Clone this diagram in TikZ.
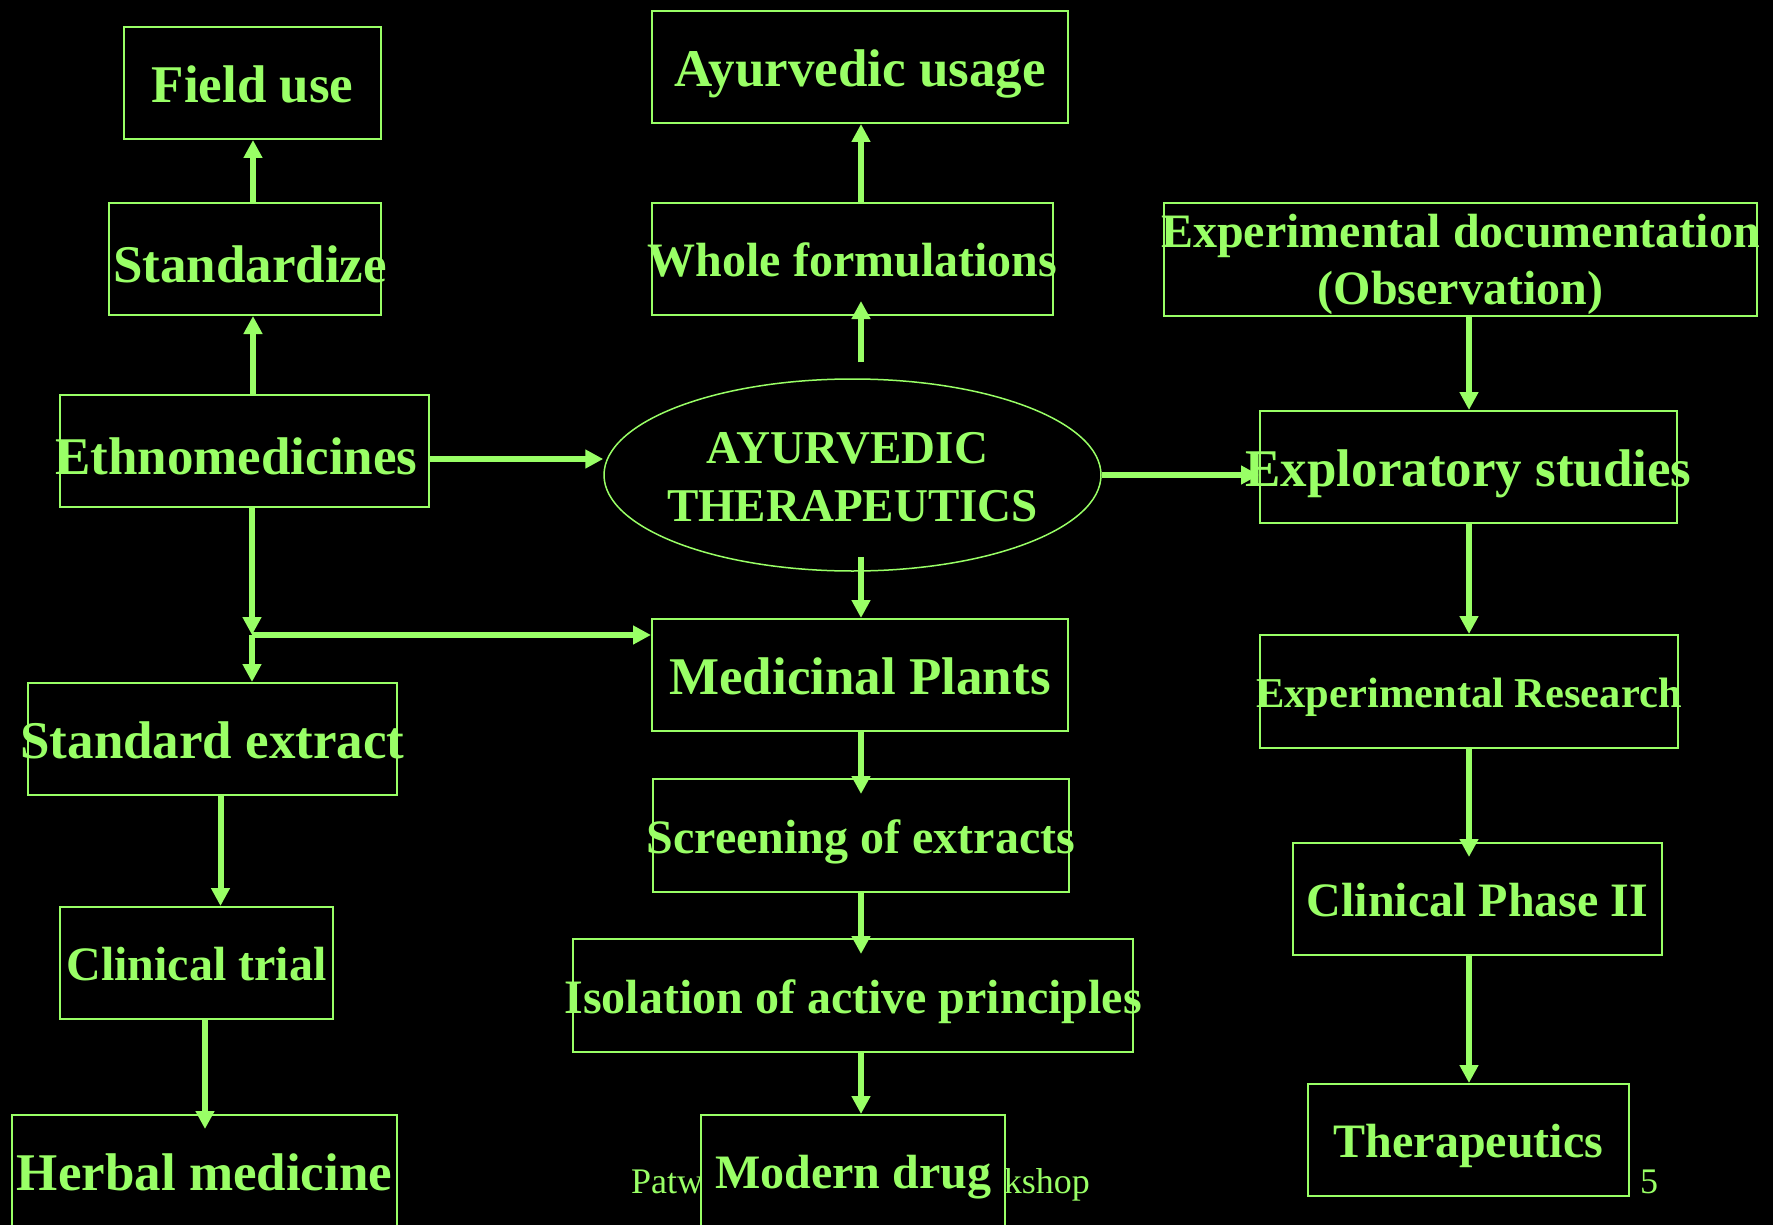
\documentclass[tikz,border=0pt]{standalone}
\usepackage{fontspec}
\setmainfont{Liberation Serif}
\usetikzlibrary{arrows.meta,shapes.geometric}
\definecolor{leaf}{HTML}{99FF66}

\begin{document}
\begin{tikzpicture}[x=1pt,y=1pt,
    box/.style 2 args={draw=leaf, line width=2pt, fill=black, inner sep=0pt,
        minimum width=#1, minimum height=#2},
    oval/.style={draw=leaf, line width=1.5pt, ellipse, inner sep=0pt,
        minimum width=497, minimum height=192},
    txt/.style={text=leaf, inner sep=0pt, yshift=-2,
        font=\bfseries\fontsize{#1}{57}\selectfont,
        text height={0.662*#1pt}, text depth=0pt},
    txt/.default=48,
    foot/.style={text=leaf, inner sep=0pt, font=\fontsize{36}{40}\selectfont},
    arr/.style={draw=leaf, line width=6pt, -{Triangle[length=18pt,width=18pt]}}]
    \useasboundingbox (0,0) rectangle (1773,-1225);
    \fill[black] (0,0) rectangle (1773,-1225);
    \node[foot, anchor=base west] (footl) at (631,-1193) {Patw};
    \node[foot, anchor=base east] (footr) at (1090,-1193) {kshop};
    \node[foot, anchor=base west] (page) at (1640,-1193) {5};
    % left column
    \node[box={257}{112}] (field) at (252.5,-83) {};
    \node[box={272}{112}] (stdz) at (245,-259) {};
    \node[box={369}{112}] (ethno) at (244.5,-451) {};
    \node[box={369}{112}] (sext) at (212.5,-739) {};
    \node[box={273}{112}] (ctrial) at (196.5,-963) {};
    \node[box={385}{112}] (herbal) at (204.5,-1171) {};
    % centre column
    \node[box={416}{112}] (ayu) at (860,-67) {};
    \node[box={401}{112}] (whole) at (852.5,-259) {};
    \node[oval] (ell) at (852.5,-475) {};
    \node[box={416}{112}] (medp) at (860,-675) {};
    \node[box={416}{113}] (screen) at (861,-835.5) {};
    \node[box={560}{113}] (isol) at (853,-995.5) {};
    \node[box={304}{112}] (modern) at (853,-1171) {};
    % right column
    \node[box={593}{113}] (expdoc) at (1460.5,-259.5) {};
    \node[box={417}{112}] (explor) at (1468.5,-467) {};
    \node[box={418}{113}] (expres) at (1469,-691.5) {};
    \node[box={369}{112}] (cph) at (1477.5,-899) {};
    \node[box={321}{112}] (thera) at (1468.5,-1140) {};
    % texts
    \node[txt=53] (fieldtx) at (field) {Field use};
    \node[txt=53, xshift=5, yshift=-4] (stdztx) at (stdz) {Standardize};
    \node[txt=53, xshift=-8, yshift=-4] (ethnotx) at (ethno) {Ethnomedicines};
    \node[txt=53] (sexttx) at (sext) {Standard extract};
    \node[txt] (ctrialtx) at (ctrial) {Clinical trial};
    \node[txt=53] (herbaltx) at (herbal) {Herbal medicine};
    \node[txt=53] (ayutx) at (ayu) {Ayurvedic usage};
    \node[txt] (wholetx) at (whole) {Whole formulations};
    \node[txt=47, xshift=-5, yshift=29] (elltxa) at (ell) {AYURVEDIC};
    \node[txt=47, yshift=-28.5] (elltxb) at (ell) {THERAPEUTICS};
    \node[txt=53] (medptx) at (medp) {Medicinal Plants};
    \node[txt] (screentx) at (screen) {Screening of extracts};
    \node[txt] (isoltx) at (isol) {Isolation of active principles};
    \node[txt] (moderntx) at (modern) {Modern drug};
    \node[txt, yshift=29.5] (expdoctxa) at (expdoc) {Experimental documentation};
    \node[txt, yshift=-27.5] (expdoctxb) at (expdoc) {(Observation)};
    \node[txt=53] (explortx) at (explor) {Exploratory studies};
    \node[txt=42.5] (exprestx) at (expres) {Experimental Research};
    \node[txt] (cphtx) at (cph) {Clinical Phase II};
    \node[txt] (theratx) at (thera) {Therapeutics};
    % connectors
    \coordinate (lcol) at (253,0);
    \coordinate (ccol) at (861,0);
    \coordinate (rcol) at (1469,0);
    \coordinate (jn) at (252,-635);
    \draw[arr] (ethno.north -| lcol) -- (stdz.south -| lcol);
    \draw[arr] (stdz.north -| lcol) -- (field.south -| lcol);
    \draw[arr] ([yshift=-8]ethno.east) -- ([yshift=-8]ethno.east -| ell.west);
    \draw[arr] (ethno.south -| jn) -- (jn);
    \draw[arr] (jn) -- (jn -| medp.west);
    \draw[arr] (jn) -- (jn |- sext.north);
    \draw[arr] ([xshift=8]sext.south) -- ([xshift=8]sext.south |- ctrial.north);
    \draw[arr, shorten >=-15pt] ([xshift=8.5]ctrial.south) -- ([xshift=8.5]ctrial.south |- herbal.north);
    \draw[arr, shorten <=16pt, shorten >=-15pt] (ell.north -| ccol) -- (whole.south -| ccol);
    \draw[arr] (whole.north -| ccol) -- (ayu.south -| ccol);
    \draw[arr, shorten <=-15pt] (ell.south -| ccol) -- (medp.north -| ccol);
    \draw[arr, shorten >=-16pt] (medp.south -| ccol) -- (screen.north -| ccol);
    \draw[arr, shorten >=-16pt] (screen.south -| ccol) -- (isol.north -| ccol);
    \draw[arr] (isol.south -| ccol) -- (modern.north -| ccol);
    \draw[arr] (ell.east) -- (ell.east -| explor.west);
    \draw[arr] (expdoc.south -| rcol) -- (explor.north -| rcol);
    \draw[arr] (explor.south -| rcol) -- (expres.north -| rcol);
    \draw[arr, shorten >=-15pt] (expres.south -| rcol) -- (cph.north -| rcol);
    \draw[arr] (cph.south -| rcol) -- (thera.north -| rcol);
\end{tikzpicture}
\end{document}
